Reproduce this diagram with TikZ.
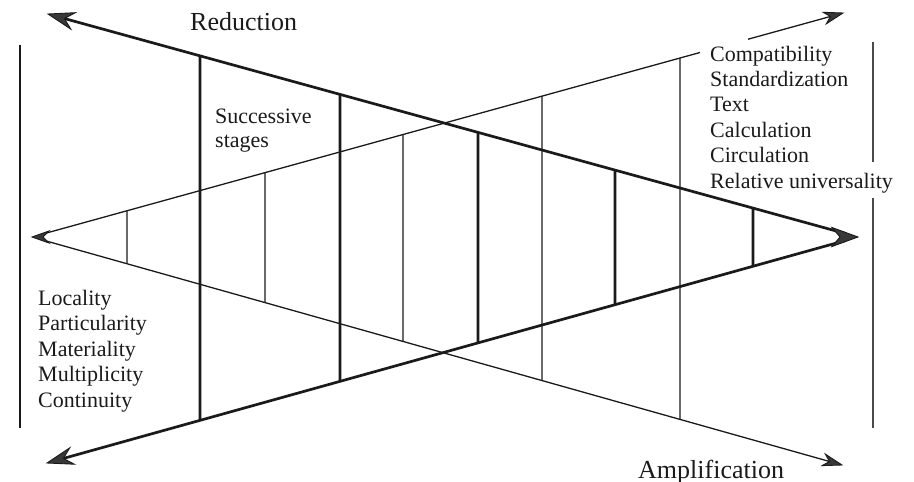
\documentclass[tikz,border=0pt]{standalone}
\usepackage{fontspec}
\setmainfont{Liberation Serif}
\usetikzlibrary{calc}
\definecolor{ink}{HTML}{1A1A1A}
\definecolor{tipfill}{HTML}{383838}
\definecolor{faint}{HTML}{4A4A4A}
% #1 tip, #2 point it comes from, #3 length, #4 half width, #5 notch depth
\newcommand\arrowhd[5]{%
  \coordinate (hdB) at ($(#1)!#3!(#2)$);
  \coordinate (hdN) at ($(#1)!#5!(#2)$);
  \filldraw[fill=tipfill, draw=ink, line width=0.9pt, line join=miter]
    (#1) -- ($(hdB)!#4!90:(#1)$) -- (hdN) -- ($(hdB)!#4!-90:(#1)$) -- cycle;}
\begin{document}
\begin{tikzpicture}[x=1pt,y=-1pt,
  thickln/.style={draw=ink, line width=2.7pt},
  thinln/.style={draw=ink, line width=1.3pt},
  lbl/.style={inner sep=0pt, font=\fontsize{22}{25}\selectfont, text=ink, anchor=base west},
  ttl/.style={inner sep=0pt, font=\fontsize{26}{28}\selectfont, text=ink, anchor=base west},
]
\useasboundingbox (0,0) rectangle (914,482);
% Reduction triangle (thick)
\coordinate (R) at (858,237);
\coordinate (Rtail) at (830,237);
\coordinate (RTL) at (48,14);
\coordinate (RBL) at (47,463);
% Amplification triangle (thin)
\coordinate (A) at (32,237);
\coordinate (Atail) at (60,237);
\coordinate (ATR) at (843,13);
\coordinate (ABR) at (842,465);
\coordinate (Agap1) at ($(A)!{(700-32)/811}!(ATR)$);
\coordinate (Agap2) at ($(A)!{(748-32)/811}!(ATR)$);

% thin vertical stages
\foreach \x in {127,265,403,542,680}
  \draw[thinln] ($(A)!{(\x-32)/811}!(ATR)$) -- ($(A)!{(\x-32)/810}!(ABR)$);
% thick vertical stages
\foreach \x in {200,340,478,615,753}
  \draw[thickln] ($(RTL)!{(\x-48)/810}!(R)$) -- ($(RBL)!{(\x-47)/811}!(R)$);

% thick converging lines
\draw[thickln, shorten <=14pt, shorten >=12pt] (R) -- (RTL);
\draw[thickln, shorten <=14pt, shorten >=12pt] (R) -- (RBL);
\arrowhd{RTL}{R}{26pt}{8.5pt}{17pt}
\arrowhd{RBL}{R}{26pt}{8.5pt}{17pt}
\arrowhd{R}{Rtail}{26pt}{9.5pt}{18pt}

% thin diverging lines
\draw[thinln, shorten <=8pt] (A) -- (Agap1);
\draw[thinln, shorten >=8pt] (Agap2) -- (ATR);
\draw[thinln, shorten <=8pt, shorten >=8pt] (A) -- (ABR);
\arrowhd{ATR}{A}{19pt}{6pt}{13pt}
\arrowhd{ABR}{A}{19pt}{6pt}{13pt}
\arrowhd{A}{Atail}{17pt}{6pt}{11pt}

% outer verticals
\coordinate (L1) at (20,45);
\coordinate (L2) at (20,428);
\draw[draw=ink, line width=2.8pt] (L1) -- (L2);
\coordinate (Q1) at (873,42);
\coordinate (Q2) at (873,162);
\coordinate (Q3) at (873,198);
\coordinate (Q4) at (873,428);
\draw[draw=faint, line width=1.4pt] (Q1) -- (Q2);
\draw[draw=faint, line width=1.4pt] (Q3) -- (Q4);

% labels
\node[ttl] (red) at (190,30) {Reduction};
\node[ttl] (amp) at (638,478) {Amplification};
\node[lbl] (s1) at (215,123) {Successive};
\node[lbl] (s2) at (215,147) {stages};
\foreach \t [count=\i] in {Compatibility,Standardization,Text,Calculation,Circulation,Relative universality}
  \node[lbl] (r\i) at (710,{61+25.4*(\i-1)}) {\t};
\foreach \t [count=\i] in {Locality,Particularity,Materiality,Multiplicity,Continuity}
  \node[lbl] (l\i) at (38,{305+25.5*(\i-1)}) {\t};
\end{tikzpicture}
\end{document}
